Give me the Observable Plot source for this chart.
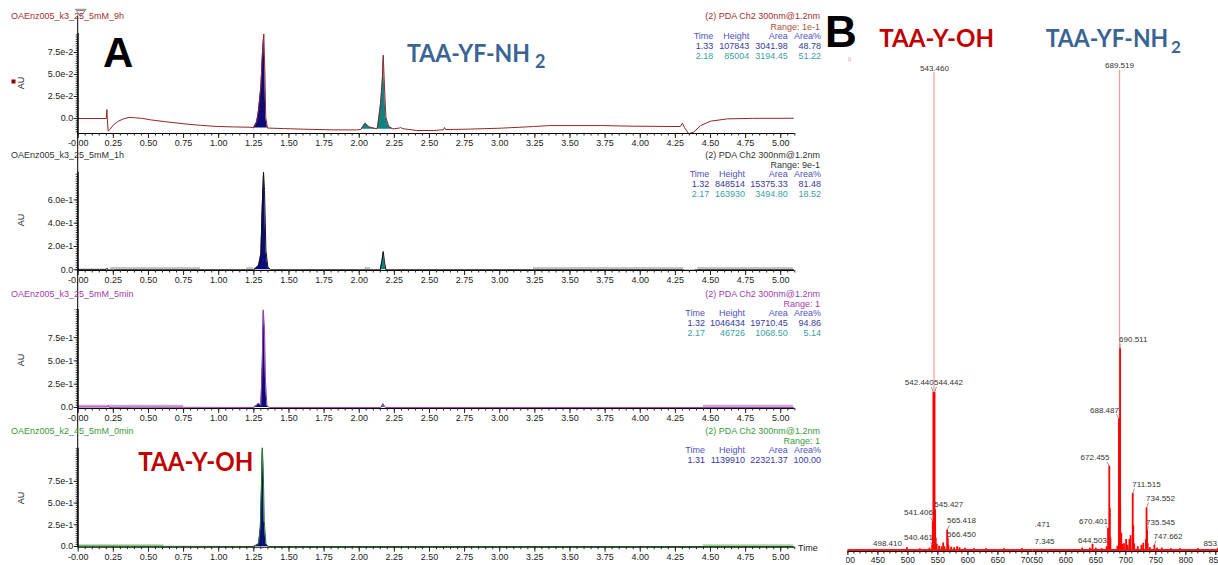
<!DOCTYPE html>
<html>
<head>
<meta charset="utf-8">
<script src="https://cdn.jsdelivr.net/npm/d3@7"></script>
<script src="https://cdn.jsdelivr.net/npm/@observablehq/plot@0.6"></script>
<style>
html,body{margin:0;padding:0;background:#fff;}
#root{position:relative;width:1218px;height:565px;overflow:hidden;background:#fff;}
.clip{position:absolute;overflow:hidden;}
#root svg{max-width:none !important;}
</style>
</head>
<body>
<div id="root"></div>
<script>
// ================= DATA =================
// ---- Panel A: HPLC traces (time in min, absorbance in AU) ----
const timeMajor = [0,0.25,0.5,0.75,1,1.25,1.5,1.75,2,2.25,2.5,2.75,3,3.25,3.5,3.75,4,4.25,4.5,4.75,5];
const timeLabels = ["-0.00","0.25","0.50","0.75","1.00","1.25","1.50","1.75","2.00","2.25","2.50","2.75","3.00","3.25","3.50","3.75","4.00","4.25","4.50","4.75","5.00"];

const runNames = ["OAEnz005_k3_25_5mM_9h","OAEnz005_k3_25_5mM_1h","OAEnz005_k3_25_5mM_5min","OAEnz005_k2_45_5mM_0min"];
const channelName = "(2) PDA Ch2 300nm@1.2nm";
const rangeLabels = ["Range: 1e-1","Range: 9e-1","Range: 1","Range: 1"];
const tableHeader = ["Time","Height","Area","Area%"];
const table9h = [["1.33","107843","3041.98","48.78"],["2.18","85004","3194.45","51.22"]];
const table1h = [["1.32","848514","15375.33","81.48"],["2.17","163930","3494.80","18.52"]];
const table5min = [["1.32","1046434","19710.45","94.86"],["2.17","46726","1068.50","5.14"]];
const table0min = [["1.31","1139910","22321.37","100.00"]];

const yTicks9h = [0,0.025,0.05,0.075];   const yLabels9h = ["0.0","2.5e-2","5.0e-2","7.5e-2"];
const yTicks1h = [0,0.2,0.4,0.6];        const yLabels1h = ["0.0","2.0e-1","4.0e-1","6.0e-1"];
const yTicks5min = [0,0.25,0.5,0.75];    const yLabels5min = ["0.0","2.5e-1","5.0e-1","7.5e-1"];
const yTicks0min = [0,0.25,0.5,0.75];    const yLabels0min = ["0.0","2.5e-1","5.0e-1","7.5e-1"];

const trace9h = [[0,0],[0.2,0],[0.204,0.0102],[0.207,0.0005],[0.213,-0.0142],[0.225,-0.0125],[0.25,-0.0075],[0.28,-0.0035],[0.32,-0.0005],[0.36,0.0012],[0.4,0.0009],[0.45,0.0003],[0.515,-0.0015],[0.63,-0.0038],[0.752,-0.006],[0.87,-0.0077],[0.987,-0.009],[1.1,-0.0095],[1.224,-0.0099],[1.248,-0.0106],[1.27,-0.004],[1.283,0.009],[1.3,0.036],[1.312,0.077],[1.321,0.096],[1.328,0.055],[1.335,0.001],[1.347,-0.0108],[1.46,-0.0114],[1.6,-0.0121],[1.817,-0.0129],[1.98,-0.0129],[2.012,-0.0124],[2.043,-0.0052],[2.07,-0.0095],[2.121,-0.0117],[2.13,-0.0105],[2.152,0.017],[2.164,0.043],[2.171,0.072],[2.18,0.036],[2.19,0.0015],[2.21,-0.009],[2.24,-0.0118],[2.285,-0.0108],[2.295,-0.0102],[2.31,-0.0115],[2.41,-0.0136],[2.53,-0.0136],[2.6,-0.0127],[2.607,-0.0102],[2.615,-0.0125],[2.767,-0.0121],[3.004,-0.011],[3.24,-0.0091],[3.36,-0.008],[3.715,-0.008],[3.95,-0.0087],[4.285,-0.0091],[4.3,-0.0053],[4.315,-0.0105],[4.345,-0.0172],[4.38,-0.0155],[4.43,-0.008],[4.5,-0.003],[4.62,-0.0004],[4.8,0.0002],[5.09,0.0003]];
const trace1h = [[0,0.004],[0.2,0.004],[0.205,0.014],[0.21,0.0],[0.23,-0.002],[0.3,0.0],[1.25,0.0],[1.284,0.037],[1.3,0.137],[1.31,0.55],[1.319,0.838],[1.326,0.68],[1.336,0.166],[1.35,0.022],[1.37,0.0],[2.15,0.0],[2.162,0.08],[2.171,0.157],[2.18,0.065],[2.19,0.0],[4.3,0.0],[4.32,-0.004],[4.38,-0.004],[4.4,0.0],[5.09,0.0]];
const trace5min = [[0,0.005],[0.21,0.005],[0.215,0.02],[0.22,0.0],[0.4,0.003],[1.25,0.0],[1.275,0.03],[1.285,0.045],[1.3,0.02],[1.31,0.47],[1.317,1.048],[1.326,0.845],[1.333,0.29],[1.343,0.02],[1.36,0.0],[2.155,0.0],[2.17,0.04],[2.185,0.0],[5.09,0.0]];
const trace0min = [[0,0.004],[1.25,0.0],[1.284,0.031],[1.296,0.22],[1.303,0.607],[1.31,1.137],[1.317,0.91],[1.324,0.3],[1.336,0.03],[1.355,0.0],[5.09,0.0]];

// integrated peaks: [start, end, baseline]
const peaks9h = [[1.248,1.347,-0.0108],[2.012,2.24,-0.0122]];
const peaks1h = [[1.25,1.37,0],[2.15,2.19,0]];
const peaks5min = [[1.25,1.36,0],[2.155,2.185,0]];
const peaks0min = [[1.25,1.355,0]];

// light baseline segments: [start, end]
const bands1h = [[0.23,0.87],[1.2,1.25],[2.04,2.08],[3.24,4.31],[4.41,5.09]];
const bands5min = [[0,0.75],[4.45,5.09]];
const bands0min = [[0,0.61],[4.45,5.09]];

// ---- Panel B: mass spectra (m/z, relative intensity %) ----
const mzTicksLeft = [400,450,500,550,600,650,700];
const mzTicksRight = [550,600,650,700,750,800,850];
const basePeaksLeft = [[543.46,100]];
const peaksLeft = [[498.41,0.5],[520,0.3],[536,0.4],[540.461,1.0],[541.406,6.0],[542.44,33],[544.442,33],[545.427,8.4],[546.4,2.5],[548,1.2],[552,0.8],[556,0.7],[558.8,1.5],[561,0.7],[565.418,4.2],[566.45,2.5],[567.5,1.0],[572,0.6],[577,0.5],[582,0.7],[586,0.5],[595,0.4],[610,0.3],[630,0.3],[660,0.3],[690,0.3]];
const basePeaksRight = [[689.519,100],[691.5,9]];
const peaksRight = [[627.3,0.4],[640,0.4],[644.503,1.2],[650,0.4],[660,0.3],[668,0.7],[670.401,4.5],[672.455,17.5],[673.4,8.7],[674.4,2.5],[686,0.8],[688.487,27.4],[690.511,42],[692.5,3.5],[694,1.2],[697,1.3],[700.5,2.2],[703,1.0],[706,2.2],[708,3.0],[711.515,11.8],[712.5,5.0],[714,1.3],[720,0.7],[726,1.0],[729,1.4],[733.5,2.2],[734.552,8.8],[735.545,4.2],[736.5,1.3],[740,0.5],[747.662,1.0],[752,0.4],[760,0.4],[775,0.3],[790,0.3],[820,0.3],[853.4,0.4]];
// peak labels: [peak m/z, label m/z, label intensity]
const labelsLeft = [[543.46,544.3,100.8],[542.44,518.96,35.1],[544.442,567.6,35.1],[545.427,568.1,9.5],[541.406,517.6,7.8],[565.418,589.3,6.1],[566.45,589.3,3.35],[540.461,517.6,2.66],[498.41,465.96,1.4]];
const labelsRight = [[689.519,689.5,101],[690.511,712.4,43.9],[688.487,664.5,29.2],[672.455,648.7,19.3],[711.515,734.5,13.7],[734.552,757.9,10.8],[735.545,757.9,5.8],[670.401,646.2,5.9],[747.662,770.4,2.9],[644.503,644.5,2.1]];
const cutLabelsRight = [[".471",547.9,5.4],["7.345",547.9,1.7],["853.4",829.5,1.4]];

// ================= DRAWING =================
const SANS = "'Liberation Sans', Arial, Helvetica, sans-serif";
const HEAD = "Lato, 'Open Sans', sans-serif";
const NAVY = "#0b0b7c", TEAL = "#0a8383";
const BLUE = "#3a6494", RED = "#c00000";
const root = document.getElementById("root");

function chrom(c) {
  const pts = c.trace.map(([t, v]) => ({t, v}));
  const marks = [];
  if (c.bands) marks.push(Plot.ruleY(c.bands.map(([a, b]) => ({a, b})), {x1: "a", x2: "b", y: c.bandLevel, stroke: c.bandColor, strokeWidth: 2.5}));
  c.peaks.forEach(([s, e, base], k) => {
    const sub = pts.filter(d => d.t >= s && d.t <= e);
    marks.push(Plot.areaY(sub, {x: "t", y1: base, y2: "v", fill: k === 0 ? NAVY : TEAL}));
  });
  marks.push(Plot.line(pts, {x: "t", y: "v", stroke: c.color, strokeWidth: 1}));
  marks.push(Plot.ruleY([c.yDomain[0]], {stroke: "#000"}));
  marks.push(Plot.ruleX([0], {stroke: "#000"}));
  const tMinor = d3.range(0, 103).map(k => k * 0.05);
  const yMinor = d3.range(Math.ceil(c.yDomain[0] / c.minor), Math.floor(c.yDomain[1] / c.minor) + 1).map(k => k * c.minor);
  marks.push(Plot.axisX({ticks: timeMajor, tickFormat: d => timeLabels[timeMajor.indexOf(d)], tickSize: 5, tickPadding: 1.5, fontSize: 9, label: null}));
  marks.push(Plot.axisX({ticks: tMinor, tickSize: 2.5, tickFormat: () => "", label: null}));
  marks.push(Plot.axisY({ticks: c.yTicks, tickFormat: d => c.yLabels[c.yTicks.indexOf(d)], tickSize: 4, tickPadding: 1, fontSize: 9, label: null}));
  marks.push(Plot.axisY({ticks: yMinor, tickSize: 2, tickFormat: () => "", label: null}));
  const svg = Plot.plot({
    width: 840, height: c.height,
    marginLeft: 77.7, marginRight: 840 - 794.3,
    marginTop: c.yTop - c.top, marginBottom: c.top + c.height - c.yBottom,
    x: {domain: [0, 5.1], label: null},
    y: {domain: c.yDomain, label: null},
    style: {background: "transparent", overflow: "visible", fontFamily: SANS, fontSize: "9px", color: "#222", maxWidth: "none"},
    marks
  });
  svg.style.position = "absolute"; svg.style.left = "0px"; svg.style.top = c.top + "px";
  root.appendChild(svg);
}

chrom({top: 0, height: 150, yTop: 33, yBottom: 133, yDomain: [-0.017, 0.0966], trace: trace9h, peaks: peaks9h, yTicks: yTicks9h, yLabels: yLabels9h, minor: 0.0025, color: "#962626"});
chrom({top: 140, height: 148, yTop: 171.7, yBottom: 270, yDomain: [-0.006, 0.838], trace: trace1h, peaks: peaks1h, yTicks: yTicks1h, yLabels: yLabels1h, minor: 0.02, color: "#111", bands: bands1h, bandColor: "#c4c4c4", bandLevel: 0.014});
chrom({top: 280, height: 146, yTop: 309, yBottom: 408, yDomain: [-0.011, 1.052], trace: trace5min, peaks: peaks5min, yTicks: yTicks5min, yLabels: yLabels5min, minor: 0.025, color: "#9b3fa8", bands: bands5min, bandColor: "#cba6d3", bandLevel: 0.016});
chrom({top: 420, height: 145, yTop: 447.7, yBottom: 546.7, yDomain: [-0.008, 1.132], trace: trace0min, peaks: peaks0min, yTicks: yTicks0min, yLabels: yLabels0min, minor: 0.025, color: "#237a23", bands: bands0min, bandColor: "#a9d6a2", bandLevel: 0.012});

function spectrum(c) {
  const pk = c.peaks.map(([mz, i]) => ({mz, i}));
  const base = c.base.map(([mz, i]) => ({mz, i}));
  const all = pk.concat(base);
  const lab = c.labels.map(([mz, lx, ly]) => {
    const p = all.find(d => Math.abs(d.mz - mz) < 1e-6);
    const x1 = p.mz < lx - 22 ? lx - 20 : p.mz > lx + 22 ? lx + 20 : p.mz;
    return {text: mz.toFixed(3), lx, ly, x1, y1: ly - 0.9, x2: p.mz, y2: p.i};
  });
  const leaders = lab.filter(d => d.y1 - d.y2 > 0.3);
  const cut = (c.cut || []).map(([text, lx, ly]) => ({text, lx, ly}));
  const minor = d3.range(Math.ceil(c.domain[0] / 10), Math.floor(c.domain[1] / 10) + 1).map(k => k * 10);
  const svg = Plot.plot({
    width: c.w, height: 565, marginLeft: c.ml, marginRight: c.mr, marginTop: c.mt, marginBottom: 14,
    x: {domain: c.domain, label: null},
    y: {domain: [-0.3, 100], axis: null, label: null},
    style: {background: "transparent", overflow: "visible", fontFamily: SANS, fontSize: "8.5px", color: "#222", maxWidth: "none"},
    marks: [
      Plot.ruleY([0], {stroke: "#ff1a1a", strokeWidth: 2}),
      Plot.ruleX(base, {x: "mz", y1: 0, y2: "i", stroke: "#ff9a9a", strokeWidth: 1.2}),
      Plot.ruleX(pk, {x: "mz", y1: 0, y2: "i", stroke: "#ff0000", strokeWidth: 1.8}),
      Plot.link(leaders, {x1: "x1", y1: "y1", x2: "x2", y2: "y2", stroke: "#777", strokeWidth: 0.8}),
      Plot.text(lab, {x: "lx", y: "ly", text: "text", fontSize: 8, fill: "#333", lineAnchor: "middle"}),
      Plot.text(cut, {x: "lx", y: "ly", text: "text", fontSize: 8, fill: "#333", textAnchor: "start", lineAnchor: "middle"}),
      Plot.ruleY([-0.3], {stroke: "#000"}),
      Plot.axisX({ticks: c.ticks, tickSize: 4, tickPadding: 1, tickFormat: d => String(d), fontSize: 8.5, label: null}),
      Plot.axisX({ticks: minor, tickSize: 2.5, tickFormat: () => "", label: null})
    ]
  });
  const box = document.createElement("div");
  box.className = "clip";
  box.style.left = c.clipLeft + "px"; box.style.top = "0px";
  box.style.width = c.clipWidth + "px"; box.style.height = "565px";
  svg.style.position = "absolute"; svg.style.left = (c.svgLeft - c.clipLeft) + "px"; svg.style.top = "0px";
  svg.style.width = c.w + "px"; svg.style.height = "565px";
  box.appendChild(svg);
  root.appendChild(box);
}

spectrum({svgLeft: 840, w: 200, ml: 7.4, mr: 7.2, mt: 72, domain: [400, 709], clipLeft: 846, clipWidth: 187,
  peaks: peaksLeft, base: basePeaksLeft, labels: labelsLeft, ticks: mzTicksLeft});
spectrum({svgLeft: 1030, w: 188, ml: 2.3, mr: 0, mt: 70, domain: [545, 854.5], clipLeft: 1033, clipWidth: 185,
  peaks: peaksRight, base: basePeaksRight, labels: labelsRight, ticks: mzTicksRight, cut: cutLabelsRight});

// ---- overlay: titles, tables, annotations ----
const ov = d3.select(root).append("svg")
  .attr("width", 1218).attr("height", 565)
  .style("position", "absolute").style("left", "0px").style("top", "0px").style("pointer-events", "none");

function T(str, x, y, o = {}) {
  const t = ov.append("text").attr("x", x).attr("y", y).text(str)
    .attr("font-family", o.family || SANS).attr("font-size", o.size || 9)
    .attr("fill", o.color || "#000").attr("text-anchor", o.anchor || "start");
  if (o.weight) t.attr("font-weight", o.weight);
  if (o.len) t.attr("textLength", o.len).attr("lengthAdjust", "spacingAndGlyphs");
  if (o.rotate) t.attr("transform", `rotate(${o.rotate},${x},${y})`);
  return t;
}

// connecting time-axis line and marker
ov.append("line").attr("x1", 77.7).attr("x2", 77.7).attr("y1", 16).attr("y2", 547).attr("stroke", "#000");
ov.append("path").attr("d", "M76.2,10.5 L85.2,10.5 L80.7,16.5 Z").attr("fill", "#fff").attr("stroke", "#888");
ov.append("line").attr("x1", 75).attr("x2", 86.5).attr("y1", 9.3).attr("y2", 9.3).attr("stroke", "#888");
ov.append("rect").attr("x", 11.5).attr("y", 79.5).attr("width", 4).attr("height", 4).attr("fill", "#8b0000");

const tableSpecs = [
  {rows: table9h, title: 19.2, range: 29.9, head: 38.9, rowY: [48.9, 59.2], cols: [713.3, 749.3, 787.7, 821], tc: "#a03030", rc: "#b0503a", au: 83},
  {rows: table1h, title: 158.2, range: 168.2, head: 177.2, rowY: [187.2, 197.2], cols: [709.3, 745, 787.7, 821], tc: "#333", rc: "#333", au: 220},
  {rows: table5min, title: 296.5, range: 306.5, head: 315.5, rowY: [325.5, 335.5], cols: [705, 745, 787.7, 821], tc: "#a23ca8", rc: "#a23ca8", au: 360},
  {rows: table0min, title: 433.9, range: 444.2, head: 453.2, rowY: [463.2], cols: [705, 745, 787.7, 821], tc: "#3a9a3a", rc: "#3a9a3a", au: 498}
];
const rowColors = ["#3838a0", "#3a9f9f"];
tableSpecs.forEach((s, p) => {
  T(runNames[p], 11, s.title, {color: s.tc});
  T(channelName, 820, s.title, {color: s.tc, anchor: "end"});
  T(rangeLabels[p], 820, s.range, {color: s.rc, anchor: "end"});
  tableHeader.forEach((h, j) => T(h, s.cols[j], s.head, {color: "#5050bf", anchor: "end"}));
  s.rows.forEach((r, k) => r.forEach((v, j) => T(v, s.cols[j], s.rowY[k], {color: rowColors[k], anchor: "end"})));
  T("AU", 24, s.au, {rotate: -90, anchor: "middle", color: "#222"});
});
T("Time", 798, 551, {color: "#222"});

// big annotations
T("A", 103, 66.7, {size: 42, weight: "bold"});
T("B", 825, 47, {size: 44, weight: "bold"});
T("TAA-YF-NH", 407, 61.7, {size: 25.5, weight: "bold", family: HEAD, color: BLUE, len: 123});
T("2", 535, 68.3, {size: 18, weight: "bold", family: HEAD, color: BLUE});
T("TAA-Y-OH", 138.3, 470.7, {size: 26, weight: "bold", family: HEAD, color: RED, len: 115});
T("TAA-Y-OH", 879.3, 46.7, {size: 24.5, weight: "bold", family: HEAD, color: RED, len: 114.7});
T("TAA-YF-NH", 1045.7, 46.7, {size: 24.5, weight: "bold", family: HEAD, color: BLUE, len: 122.6});
T("2", 1171, 53.3, {size: 17, weight: "bold", family: HEAD, color: BLUE});
T("i)", 848, 61, {size: 6, color: "#f08080"});
</script>
</body>
</html>
